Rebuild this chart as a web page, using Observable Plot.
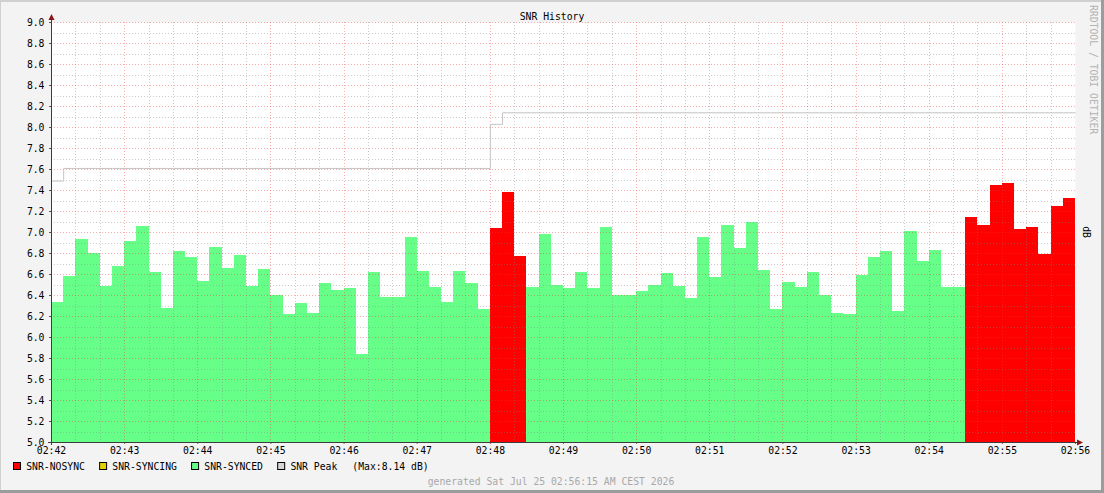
<!DOCTYPE html>
<html>
<head>
<meta charset="utf-8">
<script src="https://cdn.jsdelivr.net/npm/d3@7"></script>
<script src="https://cdn.jsdelivr.net/npm/@observablehq/plot@0.6"></script>
<style>
  html, body { margin: 0; padding: 0; background: #f3f3f3; }
  #wrap { position: relative; width: 1104px; height: 493px; overflow: hidden; background: #f3f3f3; }
  #wrap svg { display: block; }
</style>
</head>
<body>
<div id="wrap"></div>
<script>
// ---------- data ----------
const chartTitle = "SNR History";
const yLabel = "dB";
const watermark = "RRDTOOL / TOBI OETIKER";
const footerText = "generated Sat Jul 25 02:56:15 AM CEST 2026";

const startTime = Date.UTC(2026, 6, 25, 2, 42, 0);
const stepSeconds = 10;

const snrValues = [
  6.33, 6.58, 6.93, 6.80, 6.49, 6.68, 6.91, 7.06, 6.62, 6.28,
  6.82, 6.76, 6.53, 6.86, 6.66, 6.78, 6.49, 6.65, 6.40, 6.22,
  6.32, 6.23, 6.51, 6.45, 6.47, 5.84, 6.62, 6.38, 6.38, 6.95,
  6.63, 6.48, 6.33, 6.63, 6.51, 6.27, 7.04, 7.38, 6.77, 6.48,
  6.98, 6.50, 6.47, 6.62, 6.47, 7.05, 6.40, 6.40, 6.44, 6.50,
  6.61, 6.49, 6.37, 6.95, 6.57, 7.07, 6.85, 7.10, 6.64, 6.27,
  6.52, 6.48, 6.62, 6.40, 6.23, 6.22, 6.59, 6.76, 6.82, 6.25,
  7.01, 6.72, 6.83, 6.48, 6.48, 7.14, 7.07, 7.45, 7.47, 7.03,
  7.05, 6.79, 7.25, 7.32
];

// sync state of each sample, as run lengths
const statusRuns = [["SNR-SYNCED", 36], ["SNR-NOSYNC", 3], ["SNR-SYNCED", 36], ["SNR-NOSYNC", 9]];
// running peak value, as run lengths
const peakRuns = [[7.49, 1], [7.61, 35], [8.03, 1], [8.14, 47]];
const peakMax = 8.14;

const yTicks = [5.0, 5.2, 5.4, 5.6, 5.8, 6.0, 6.2, 6.4, 6.6, 6.8, 7.0, 7.2, 7.4, 7.6, 7.8, 8.0, 8.2, 8.4, 8.6, 8.8, 9.0];
const xTickLabels = ["02:42", "02:43", "02:44", "02:45", "02:46", "02:47", "02:48", "02:49", "02:50", "02:51", "02:52", "02:53", "02:54", "02:55", "02:56"];

const seriesNames = ["SNR-NOSYNC", "SNR-SYNCING", "SNR-SYNCED", "SNR Peak"];
const seriesColors = ["#ff0000", "#e3d100", "#66ff88", "#d6d6d6"];

// ---------- build tables ----------
const colorOf = Object.fromEntries(seriesNames.map((n, i) => [n, seriesColors[i]]));
const expand = runs => runs.flatMap(([v, n]) => Array(n).fill(v));
const statuses = expand(statusRuns);
const peaks = expand(peakRuns);
const rows = snrValues.map((v, i) => ({
  t0: new Date(startTime + i * stepSeconds * 1000),
  t1: new Date(startTime + (i + 1) * stepSeconds * 1000),
  snr: v,
  status: statuses[i],
  peak: peaks[i]
}));
const xStart = rows[0].t0, xEnd = rows[rows.length - 1].t1;
const peakPoints = rows.map(r => ({t: r.t0, peak: r.peak}))
  .concat([{t: xEnd, peak: rows[rows.length - 1].peak}]);

const parseHM = s => { const [h, m] = s.split(":").map(Number); return new Date(Date.UTC(2026, 6, 25, h, m, 0)); };
const xTicks = xTickLabels.map(parseHM);
const majorX = xTicks.filter(d => +d > +xStart && +d < +xEnd);
const minorX = d3.utcSecond.every(20).range(xStart, xEnd).filter(d => d.getUTCSeconds() !== 0);
const minorY = d3.range(51, 90, 2).map(v => v / 10);
const majorY = yTicks.filter(v => v > 5);

const yMin = yTicks[0], yMax = yTicks[yTicks.length - 1];
const fontSize = 9.75;

const plot = Plot.plot({
  width: 1104,
  height: 493,
  marginLeft: 51,
  marginRight: 29,
  marginTop: 22,
  marginBottom: 51,
  style: {fontFamily: "'DejaVu Sans Mono', monospace", fontSize: fontSize + "px", background: "transparent", color: "#000", overflow: "visible"},
  x: {type: "utc", domain: [xStart, xEnd]},
  y: {domain: [yMin, yMax]},
  marks: [
    Plot.frame({fill: "#ffffff", stroke: "none"}),
    Plot.rectY(rows, {
      x1: "t0", x2: "t1", y1: () => yMin, y2: "snr",
      fill: d => colorOf[d.status],
      insetLeft: 0, insetRight: 0, clip: true, shapeRendering: "crispEdges"
    }),
    Plot.gridX({ticks: minorX, stroke: "rgba(130,130,130,0.42)", strokeOpacity: 1, strokeDasharray: "1,2", shapeRendering: "crispEdges"}),
    Plot.gridY({ticks: minorY, stroke: "rgba(130,130,130,0.42)", strokeOpacity: 1, strokeDasharray: "1,2", shapeRendering: "crispEdges"}),
    Plot.gridX({ticks: majorX, stroke: "rgba(230,60,60,0.42)", strokeOpacity: 1, strokeDasharray: "1,2", shapeRendering: "crispEdges"}),
    Plot.gridY({ticks: majorY, stroke: "rgba(230,60,60,0.42)", strokeOpacity: 1, strokeDasharray: "1,2", shapeRendering: "crispEdges"}),
    Plot.line(peakPoints, {x: "t", y: "peak", curve: "step-after", stroke: "#c4c4c4", strokeWidth: 1}),
    Plot.axisX({ticks: xTicks, tickFormat: d3.utcFormat("%H:%M"), tickSize: 2, tickPadding: 3, label: null, stroke: "#a05050"}),
    Plot.axisY({ticks: yTicks, tickFormat: d => d.toFixed(1), tickSize: 2, tickPadding: 5, label: null, stroke: "#555"})
  ]
});

document.getElementById("wrap").appendChild(plot);

// ---------- decorations ----------
const svg = d3.select(plot);
const sx = plot.scale("x"), sy = plot.scale("y");
const L = sx.apply(xStart), R = sx.apply(xEnd);
const B = sy.apply(yMin), T = sy.apply(yMax);
const font = "'DejaVu Sans Mono', monospace";

// axis lines and arrows
svg.append("line").attr("x1", L - 3).attr("x2", R + 3).attr("y1", B + 0.5).attr("y2", B + 0.5)
  .attr("stroke", "#3c3c3c").attr("stroke-width", 1);
svg.append("line").attr("x1", L + 0.5).attr("x2", L + 0.5).attr("y1", B + 3).attr("y2", T - 3)
  .attr("stroke", "#3c3c3c").attr("stroke-width", 1);
svg.append("path").attr("d", `M${L + 0.5},${T - 8} L${L - 2.5},${T - 2} L${L + 3.5},${T - 2} Z`).attr("fill", "#8c1414");
svg.append("path").attr("d", `M${R + 8},${B + 0.5} L${R + 2},${B - 2.5} L${R + 2},${B + 3.5} Z`).attr("fill", "#8c1414");

// title
svg.append("text").attr("x", 552).attr("y", 16).attr("text-anchor", "middle").attr("dominant-baseline", "central")
  .attr("font-family", font).attr("font-size", fontSize).attr("fill", "#000").text(chartTitle);

// right-side vertical texts
svg.append("text").attr("transform", `translate(${R + 11},${(T + B) / 2}) rotate(90)`)
  .attr("text-anchor", "middle").attr("dominant-baseline", "central")
  .attr("font-family", font).attr("font-size", fontSize).attr("fill", "#000").text(yLabel);
svg.append("text").attr("transform", `translate(1093,5) rotate(90)`)
  .attr("text-anchor", "start").attr("dominant-baseline", "central")
  .attr("font-family", font).attr("font-size", fontSize).attr("fill", "#b4b4b4").text(watermark);

// legend
let lx = 13;
const ly = 466;
const addText = (x, s) => svg.append("text").attr("x", x).attr("y", ly)
  .attr("text-anchor", "start").attr("dominant-baseline", "central")
  .attr("font-family", font).attr("font-size", fontSize).attr("fill", "#000").text(s);
seriesNames.forEach((name, i) => {
  svg.append("rect").attr("x", lx + 0.5).attr("y", ly - 3.5).attr("width", 7).attr("height", 7)
    .attr("fill", seriesColors[i]).attr("stroke", "#000").attr("stroke-width", 1);
  const t = addText(lx + 13.2, name);
  lx = lx + 13.2 + t.node().getComputedTextLength() + 14.2;
});
addText(lx - 14.2 + 15, `(Max:${peakMax.toFixed(2)} dB)`);

// footer
svg.append("text").attr("x", 551).attr("y", 481).attr("text-anchor", "middle").attr("dominant-baseline", "central")
  .attr("font-family", font).attr("font-size", fontSize).attr("fill", "#a8a8a8").text(footerText);

// image frame shading
svg.append("rect").attr("x", 0).attr("y", 0).attr("width", 1104).attr("height", 2).attr("fill", "#d0d0d0");
svg.append("rect").attr("x", 0).attr("y", 0).attr("width", 1).attr("height", 493).attr("fill", "#d0d0d0");
svg.append("rect").attr("x", 1101).attr("y", 0).attr("width", 3).attr("height", 493).attr("fill", "#9c9c9c");
svg.append("rect").attr("x", 0).attr("y", 490).attr("width", 1104).attr("height", 3).attr("fill", "#9c9c9c");
</script>
</body>
</html>
